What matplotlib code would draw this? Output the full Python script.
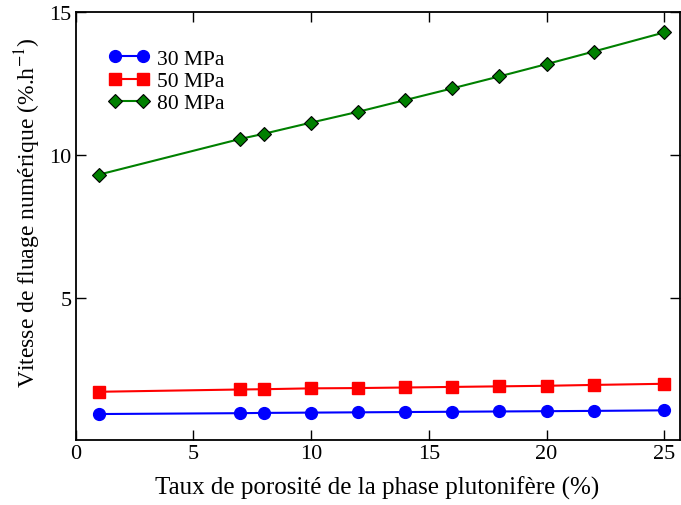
import matplotlib
matplotlib.use('Agg')
import matplotlib.pyplot as plt

# porosity (%) and creep rate (%/h) for each pressure
porosite = [1, 7, 8, 10, 12, 14, 16, 18, 20, 22, 25]
v_30 = [0.92, 0.95, 0.96, 0.97, 0.98, 0.99, 1.00, 1.01, 1.02, 1.03, 1.05]
v_50 = [1.70, 1.78, 1.79, 1.82, 1.83, 1.85, 1.87, 1.89, 1.91, 1.94, 1.98]
v_80 = [9.31, 10.56, 10.74, 11.13, 11.51, 11.92, 12.33, 12.75, 13.18, 13.62, 14.29]
labels = ['30 MPa', '50 MPa', '80 MPa']

plt.rcParams['font.family'] = ['Liberation Serif', 'DejaVu Serif']
plt.rcParams['mathtext.fontset'] = 'stix'

fig = plt.figure(figsize=(6.81, 5.06), dpi=100)
ax = fig.add_axes([0.111, 0.129, 0.887, 0.845])

ax.plot(porosite, v_30, color='#0000ff', lw=1.5, marker='o', ms=8.5,
        mec='#0000ff', label=labels[0])
ax.plot(porosite, v_50, color='#ff0000', lw=1.5, marker='s', ms=8,
        mec='#ff0000', label=labels[1])
ax.plot(porosite, v_80, color='#008000', lw=1.5, marker='D', ms=7,
        mec='black', mew=0.8, label=labels[2])

ax.set_xlim(0, 25.65)
ax.set_ylim(0.02, 15)
ax.set_xticks([0, 5, 10, 15, 20, 25])
ax.set_yticks([5, 10, 15])
ax.tick_params(direction='in', top=True, right=True, length=7, width=1,
               labelsize=16, pad=3)
for s in ax.spines.values():
    s.set_linewidth(1.3)

ax.set_xlabel('Taux de porosité de la phase plutonifère (%)', fontsize=18, labelpad=9)
ax.set_ylabel('Vitesse de fluage numérique (%.h$^{-1}$)', fontsize=17)
ax.yaxis.set_label_coords(-0.054, 0.533)

ax.legend(loc='upper left', bbox_to_anchor=(0.054, 0.914), frameon=False,
          numpoints=2, handlelength=1.9, handletextpad=0.35, labelspacing=0.1,
          fontsize=15.5, borderaxespad=0, borderpad=0)

plt.savefig('out.png', dpi=100)
